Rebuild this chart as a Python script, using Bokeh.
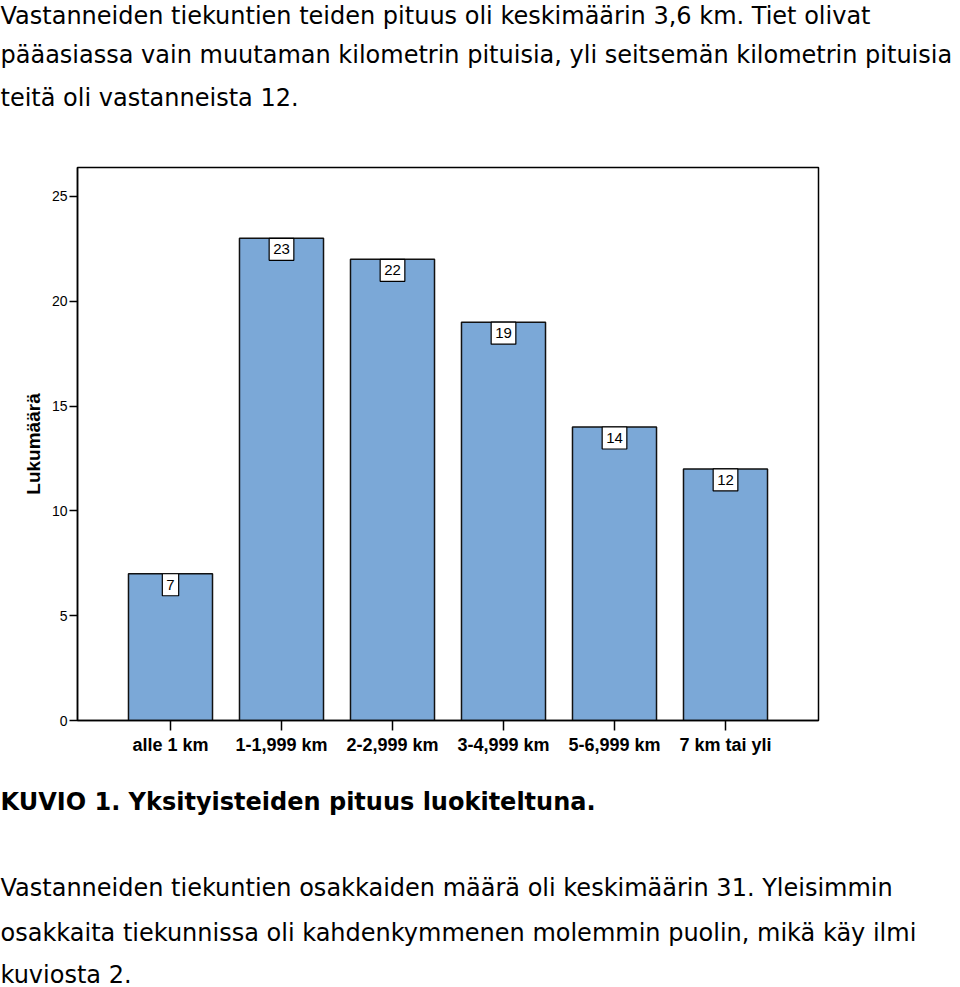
from bokeh.plotting import figure
from bokeh.models import ColumnDataSource, FactorRange, Range1d, FixedTicker, Title
from bokeh.core.properties import value
from bokeh.embed import file_html
from bokeh.resources import INLINE

categories = ["alle 1 km", "1-1,999 km", "2-2,999 km", "3-4,999 km", "5-6,999 km", "7 km tai yli"]
counts = [7, 23, 22, 19, 14, 12]
y_ticks = [0, 5, 10, 15, 20, 25]

intro_lines = [
    "Vastanneiden tiekuntien teiden pituus oli keskimäärin 3,6 km. Tiet olivat",
    "pääasiassa vain muutaman kilometrin pituisia, yli seitsemän kilometrin pituisia",
    "teitä oli vastanneista 12.",
]
caption = "KUVIO 1. Yksityisteiden pituus luokiteltuna."
outro_lines = [
    "Vastanneiden tiekuntien osakkaiden määrä oli keskimäärin 31. Yleisimmin",
    "osakkaita tiekunnissa oli kahdenkymmenen molemmin puolin, mikä käy ilmi",
    "kuviosta 2.",
]

W, H = 960, 987
FL, FR = 77, 818
TEXT_FONT = "DejaVu Sans"
TEXT_SIZE = "24px"

src = ColumnDataSource(dict(cat=categories, n=counts, lab=[str(c) for c in counts]))
p = figure(
    width=W, height=H,
    x_range=FactorRange(factors=categories, range_padding=0.1126, range_padding_units="percent"),
    y_range=Range1d(0, 26.38),
    output_backend="svg", toolbar_location=None,
    min_border_left=FL, min_border_top=0, min_border_right=W - FR, min_border_bottom=0,
)
p.background_fill_color = "white"
p.border_fill_color = "white"
p.outline_line_color = "black"
p.outline_line_width = 1.5
p.grid.visible = False

p.vbar(x="cat", top="n", width=0.757, source=src, fill_color="#7BA8D7",
       line_color="#111111", line_width=1.5)

p.text(x="cat", y="n", text="lab", source=src, text_align="center",
       text_baseline="top", y_offset=0, text_font=value("Liberation Sans"),
       text_font_size="15px", text_color="black",
       background_fill_color="white", border_line_color="black",
       border_line_width=1.2, padding=dict(left=4, right=4, top=6, bottom=6))

p.yaxis.ticker = FixedTicker(ticks=y_ticks)
p.yaxis.major_tick_in = 0
p.yaxis.major_tick_out = 8
p.yaxis.minor_tick_line_color = None
p.yaxis.axis_line_width = 1.5
p.yaxis.major_tick_line_width = 1.5
p.yaxis.major_label_text_font = "Liberation Sans"
p.yaxis.major_label_text_font_size = "14px"
p.yaxis.major_label_text_color = "black"
p.yaxis.major_label_standoff = 2
p.yaxis.axis_label = "Lukumäärä"
p.yaxis.axis_label_text_font = "Liberation Sans"
p.yaxis.axis_label_text_font_style = "bold"
p.yaxis.axis_label_text_font_size = "19px"
p.yaxis.axis_label_text_color = "black"
p.yaxis.axis_label_standoff = 5

p.xaxis.major_tick_in = 0
p.xaxis.major_tick_out = 10
p.xaxis.axis_line_width = 1.5
p.xaxis.major_tick_line_width = 1.5
p.xaxis.major_label_text_font = "Liberation Sans"
p.xaxis.major_label_text_font_style = "bold"
p.xaxis.major_label_text_font_size = "18px"
p.xaxis.major_label_text_color = "black"
p.xaxis.major_label_standoff = 4


def line_title(text, standoff, bold=False):
    return Title(text=text, align="left", offset=-FL, standoff=standoff,
                 text_font=TEXT_FONT, text_font_size=TEXT_SIZE,
                 text_font_style="bold" if bold else "normal", text_color="black")


# above panel: items stack outward from the frame
p.add_layout(line_title(" ", 23), "above")            # spacing above the chart
p.add_layout(line_title(intro_lines[2], 5), "above")
p.add_layout(line_title(intro_lines[1], 21), "above")
p.add_layout(line_title(intro_lines[0], -2), "above")

# below panel: after the x axis, outward
p.add_layout(line_title(caption, 56, bold=True), "below")
p.add_layout(line_title(" ", -4.5), "below")           # spacing after the caption
p.add_layout(line_title(outro_lines[0], 5), "below")
p.add_layout(line_title(outro_lines[1], 25), "below")
p.add_layout(line_title(outro_lines[2], -2), "below")

open("out.html", "w").write(file_html(p, INLINE))
